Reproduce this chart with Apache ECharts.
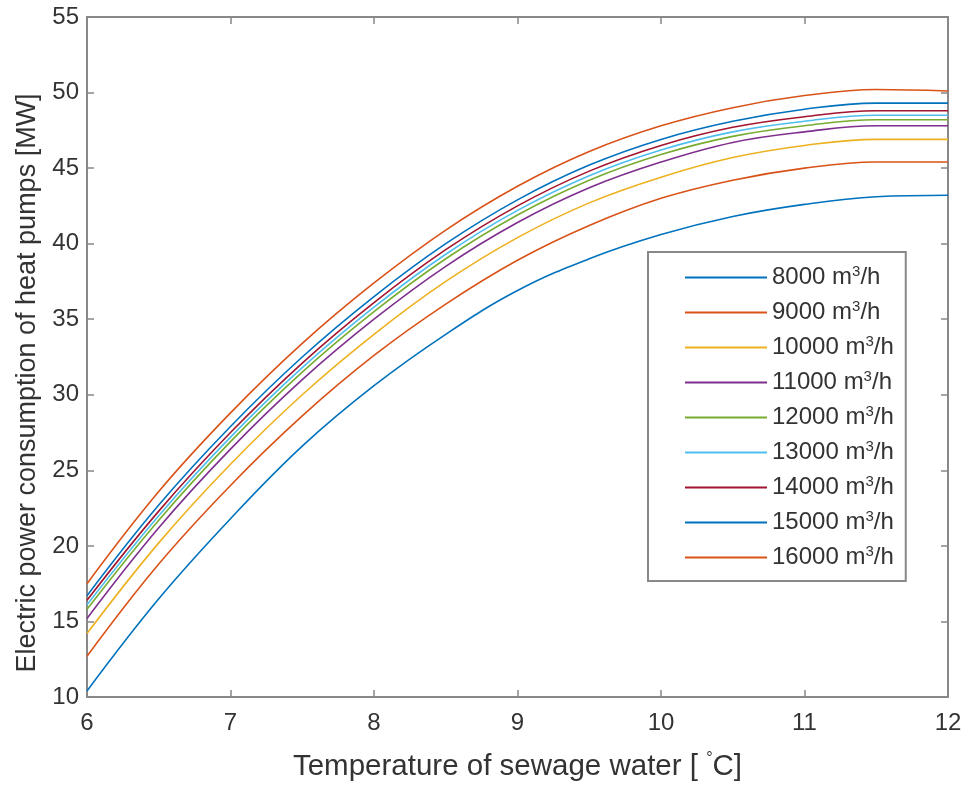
<!DOCTYPE html>
<html>
<head>
<meta charset="utf-8">
<script src="https://cdn.jsdelivr.net/npm/echarts@6/dist/echarts.min.js"></script>
<style>
  html, body { margin: 0; padding: 0; background: #fff; }
  #chart { width: 970px; height: 788px; }
</style>
</head>
<body>
<div id="chart"></div>
<script>
// temperature of sewage water (x)
var temps = [6, 6.5, 7, 7.5, 8, 8.5, 9, 9.5, 10, 10.5, 11, 11.5, 12];

// flow rates, one curve each
var flows = ['8000', '9000', '10000', '11000', '12000', '13000', '14000', '15000', '16000'];

// electric power consumption [MW]
var p8000  = [10.4, 16.5, 21.8, 26.6, 30.6, 34.0, 36.9, 39.0, 40.6, 41.8, 42.6, 43.1, 43.2];
var p9000  = [12.7, 18.8, 24.0, 28.6, 32.6, 36.0, 38.9, 41.2, 43.0, 44.2, 45.0, 45.4, 45.4];
var p10000 = [14.2, 20.2, 25.4, 30.0, 34.0, 37.5, 40.4, 42.7, 44.4, 45.7, 46.5, 46.9, 46.9];
var p11000 = [15.2, 21.2, 26.4, 31.0, 35.0, 38.5, 41.4, 43.7, 45.4, 46.7, 47.4, 47.8, 47.8];
var p12000 = [15.8, 21.7, 26.9, 31.5, 35.5, 39.0, 41.9, 44.2, 45.9, 47.1, 47.8, 48.2, 48.2];
var p13000 = [16.1, 22.0, 27.2, 31.8, 35.8, 39.3, 42.2, 44.5, 46.2, 47.4, 48.1, 48.5, 48.5];
var p14000 = [16.4, 22.3, 27.5, 32.1, 36.1, 39.6, 42.5, 44.8, 46.5, 47.7, 48.4, 48.8, 48.8];
var p15000 = [16.7, 22.7, 27.9, 32.5, 36.5, 40.0, 42.9, 45.2, 46.9, 48.1, 48.9, 49.3, 49.3];
var p16000 = [17.5, 23.6, 28.8, 33.4, 37.4, 40.9, 43.8, 46.1, 47.8, 49.0, 49.8, 50.2, 50.1];

var powerData = [p8000, p9000, p10000, p11000, p12000, p13000, p14000, p15000, p16000];

// matlab default colour order
var colors = ['#0072BD', '#D95319', '#EDB120', '#7E2F8E', '#77AC30', '#4DBEEE', '#A2142F', '#0072BD', '#D95319'];

var font = 'Liberation Sans, Arial, Helvetica, sans-serif';
var axisGray = '#888';
var textColor = '#333';

var chart = echarts.init(document.getElementById('chart'), null, { renderer: 'canvas' });

var series = flows.map(function (f, i) {
  return {
    name: f,
    type: 'line',
    data: temps.map(function (t, j) { return [t, powerData[i][j]]; }),
    smooth: 0.4,
    showSymbol: false,
    lineStyle: { color: colors[i], width: 1.6 },
    itemStyle: { color: colors[i] },
    z: 2 + i
  };
});

// mirrored axes for the box
function boxAxis(base) {
  return Object.assign({
    axisLine: { show: true, onZero: false, lineStyle: { color: axisGray, width: 2 } },
    axisTick: { show: true, inside: true, length: 7, lineStyle: { color: axisGray, width: 1.5 } },
    splitLine: { show: false }
  }, base);
}

var option = {
  animation: false,
  backgroundColor: '#fff',
  grid: { left: 87, right: 22, top: 17, bottom: 91, containLabel: false },
  xAxis: [
    boxAxis({
      type: 'value', min: 6, max: 12, interval: 1, position: 'bottom',
      axisLabel: { color: textColor, fontSize: 24, fontFamily: font, margin: 14 },
      name: 'Temperature of sewage water [ {sup|°}C]',
      nameLocation: 'middle',
      nameGap: 54,
      nameTextStyle: {
        color: textColor, fontSize: 29.5, fontFamily: font,
        rich: { sup: { fontSize: 16, fontFamily: font, color: textColor, padding: [0, 0, 15, 0] } }
      }
    }),
    boxAxis({ type: 'value', min: 6, max: 12, interval: 1, position: 'top', axisLabel: { show: false } })
  ],
  yAxis: [
    boxAxis({
      type: 'value', min: 10, max: 55, interval: 5, position: 'left',
      axisLabel: { color: textColor, fontSize: 24, fontFamily: font, margin: 8 },
      name: 'Electric power consumption of heat pumps [MW]',
      nameLocation: 'middle',
      nameGap: 45,
      nameTextStyle: { color: textColor, fontSize: 27, fontFamily: font, padding: [0, 52, 0, 0] }
    }),
    boxAxis({ type: 'value', min: 10, max: 55, interval: 5, position: 'right', axisLabel: { show: false } })
  ],
  legend: {
    orient: 'vertical',
    left: 648,
    top: 252,
    padding: [12, 12, 10, 37],
    itemGap: 8,
    itemWidth: 82,
    itemHeight: 2,
    icon: 'rect',
    backgroundColor: '#fff',
    borderColor: axisGray,
    borderWidth: 2,
    data: flows,
    formatter: function (name) {
      return name + ' m{sup|3}/h';
    },
    textStyle: {
      color: textColor, fontSize: 24, fontFamily: font, lineHeight: 24,
      rich: { sup: { fontSize: 15, fontFamily: font, color: textColor, lineHeight: 24, padding: [0, 0, 12, 0] } }
    }
  },
  series: series
};

chart.setOption(option);
</script>
</body>
</html>
